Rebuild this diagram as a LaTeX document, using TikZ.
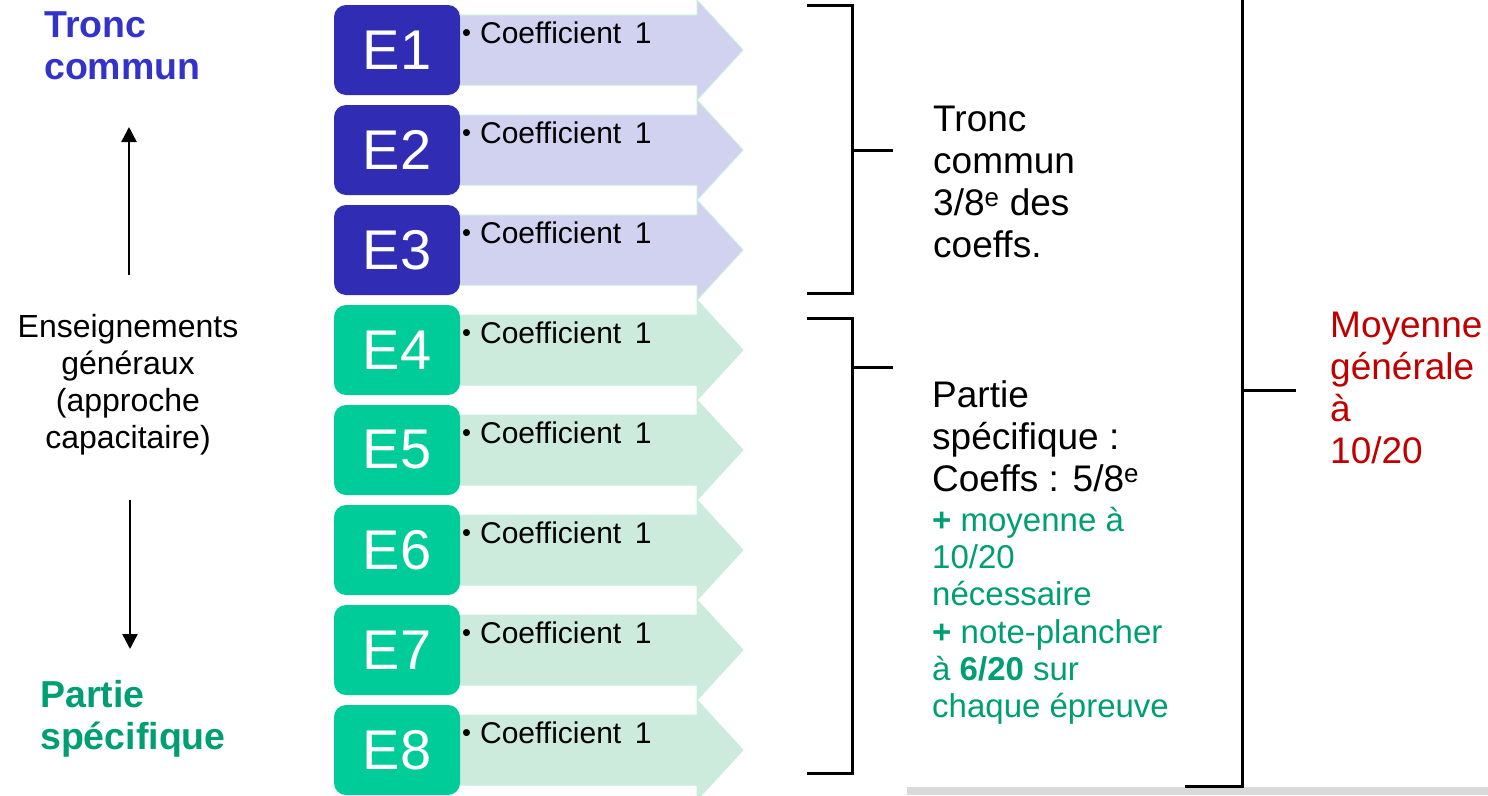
\documentclass[tikz,border=0pt]{standalone}
\usepackage{fontspec}
\setmainfont{Liberation Sans}
\usetikzlibrary{arrows.meta}
\definecolor{boxblue}{HTML}{302DB4}
\definecolor{boxgreen}{HTML}{00CC99}
\definecolor{lav}{HTML}{D1D1F0}
\definecolor{mint}{HTML}{CDEBDD}
\definecolor{arrowline}{HTML}{C8EDDC}
\definecolor{txtblue}{HTML}{3333CC}
\definecolor{txtgreen}{HTML}{009E73}
\definecolor{txtred}{HTML}{C00000}
\definecolor{graybar}{HTML}{D9D9D9}
\begin{document}
\begin{tikzpicture}[x=1pt,y=-1pt,
  ebox/.style={rounded corners=12pt, minimum width=126pt, minimum height=90pt, inner sep=0pt, text=white, font=\fontsize{56}{60}\selectfont},
  coef/.style={anchor=base west, inner sep=0pt, font=\fontsize{30}{34}\selectfont},
  bracket/.style={line width=3pt, black},
  bigtxt/.style={anchor=north west, inner sep=0pt, align=left, font=\fontsize{37}{42}\selectfont},
  grtxt/.style={anchor=north west, inner sep=0pt, align=left, text=txtgreen, font=\fontsize{33}{37.2}\selectfont},
  sidetxt/.style={anchor=north west, inner sep=0pt, align=left, font=\bfseries\fontsize{37.5}{42.5}\selectfont},
  vert/.style={line width=2.5pt, -{Triangle[length=15pt,width=15pt]}}
]
\useasboundingbox (0,0) rectangle (1488,795);
\fill[graybar] (907,787) rectangle (1488,795);

\foreach \i/\fc/\ac in {1/boxblue/lav,2/boxblue/lav,3/boxblue/lav,4/boxgreen/mint,5/boxgreen/mint,6/boxgreen/mint,7/boxgreen/mint,8/boxgreen/mint}{
  \pgfmathsetmacro\cy{50+100*(\i-1)}
  \filldraw[fill=\ac, draw=arrowline, line width=1pt] (460,\cy-35) -- (697,\cy-35) -- (697,\cy-50) -- (743,\cy) -- (697,\cy+50) -- (697,\cy+35) -- (460,\cy+35) -- cycle;
  \node[ebox, fill=\fc] (e\i) at (397,\cy) {E\i};
  \node[coef] (c\i) at (462,\cy-7) {\raisebox{0.05em}{\scalebox{0.85}{•}}\hspace{0.3em}Coefficient\hspace{0.45em}1};
}

% brackets
\coordinate (b1t) at (807,5);
\coordinate (b1b) at (807,293);
\coordinate (b1m) at (893,150);
\draw[bracket] (b1t) -- (852,5) -- (852,293) -- (b1b);
\draw[bracket] (852,150) -- (b1m);

\coordinate (b2t) at (807,318);
\coordinate (b2b) at (807,773);
\coordinate (b2m) at (893,367);
\draw[bracket] (b2t) -- (852,318) -- (852,773) -- (b2b);
\draw[bracket] (852,367) -- (b2m);

\coordinate (b3t) at (1242,-5);
\coordinate (b3b) at (1185,786);
\coordinate (b3m) at (1296,390);
\draw[bracket] (b3t) -- (1242,786) -- (b3b);
\draw[bracket] (1242,390) -- (b3m);

% right texts
\node[bigtxt] (tc) at (933,105.5) {Tronc\\commun\\3/8\textsuperscript{e} des\\coeffs.};
\node[bigtxt] (ps) at (932,380.5) {Partie\\spécifique :\\Coeffs : 5/8\textsuperscript{e}};
\node[grtxt] (psg) at (932,507) {\textbf{+} moyenne à\\10/20\\nécessaire\\\textbf{+} note-plancher\\à \textbf{6/20} sur\\chaque épreuve};
\node[bigtxt, text=txtred] (moy) at (1330,311.5) {Moyenne\\générale\\à\\10/20};

% left side
\node[sidetxt, text=txtblue] (ltc) at (44,11) {Tronc\\commun};
\node[sidetxt, text=txtgreen] (lps) at (40,680) {Partie\\spécifique};
\node[anchor=north, inner sep=0pt, align=center, font=\fontsize{32}{37}\selectfont] (ens) at (128,314) {Enseignements\\généraux\\(approche\\capacitaire)};
\coordinate (upS) at (129,275);
\coordinate (upE) at (129,127);
\coordinate (dnS) at (130,500);
\coordinate (dnE) at (130,649);
\draw[vert] (upS) -- (upE);
\draw[vert] (dnS) -- (dnE);
\end{tikzpicture}
\end{document}
